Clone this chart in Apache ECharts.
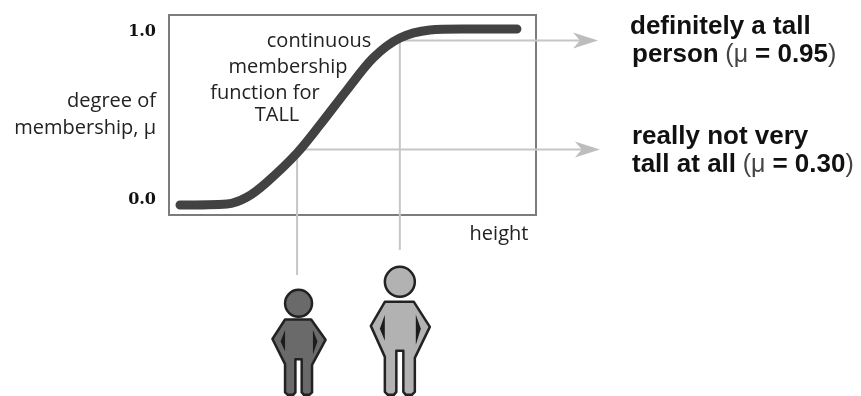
<!DOCTYPE html>
<html>
<head>
<meta charset="utf-8">
<title>membership function</title>
<style>
html, body { margin: 0; padding: 0; background: #fff; }
#main { width: 861px; height: 396px; }
</style>
<script src="https://cdn.jsdelivr.net/npm/echarts@6/dist/echarts.min.js"></script>
</head>
<body>
<div id="main"></div>
<script>
// curve
var heightValues = [3, 15.8, 21.3, 26.7, 34.9, 41.1, 48.5, 55.6, 62.9, 71.1, 80, 94.8];
var membershipValues = [-0.03, -0.024, 0.018, 0.107, 0.28, 0.446, 0.655, 0.845, 0.964, 1.012, 1.018, 1.018];
var yTicks = [0, 1];

var personHeights = [34.9, 62.9];
var personMembership = [0.30, 0.95];
var guideBottoms = [-0.446, -0.298];
var arrowEnds = [117.4, 116.9];
var personFeet = [-1.16, -1.16];

var axisFont = 'Open Sans';
var textLines = ['continuous', 'membership', 'function for', 'TALL'];

// guide up from the person, across to the arrow head
function renderGuide(params, api) {
    var bottom = api.coord([api.value(0), api.value(2)]);
    var corner = api.coord([api.value(0), api.value(1)]);
    var end = api.coord([api.value(3), api.value(1)]);
    return {
        type: 'group',
        children: [
            { type: 'polyline', shape: { points: [bottom, corner, [end[0] - 15, end[1]]] },
              style: { fill: null, stroke: '#c6c6c6', lineWidth: 2 } },
            { type: 'polygon', x: end[0], y: end[1],
              shape: { points: [[-25, -8], [0, 0], [-25, 8], [-18, 0]] },
              style: { fill: '#bdbdbd' } }
        ]
    };
}

// pictogram outline, tall person, px from the middle of the feet
var bodyShape = [[-15,-93],[-29,-69],[-15,-38],[-15,-3],[-12,0],[-6,0],[-3.5,-3],[-3.5,-44],[3.5,-44],[3.5,-3],[6,0],[12,0],[15,-3],[15,-37],[30,-68],[14,-93]];
var armLeft = [[-15,-80],[-20,-66],[-15,-54]];
var armRight = [[16,-80],[21,-66],[16,-50]];
var personScale = [[0.9, 0.81], [1, 1]];
var personFill = ['#6a6a6a', '#b2b2b2'];

function scaled(pts, s) {
    return pts.map(function (p) { return [p[0] * s[0], p[1] * s[1]]; });
}

function renderPerson(params, api) {
    var i = params.dataIndex;
    var p = api.coord([api.value(0), api.value(1)]);
    var s = personScale[i];
    return {
        type: 'group',
        x: p[0],
        y: p[1],
        children: [
            { type: 'polygon', shape: { points: scaled(bodyShape, s) },
              style: { fill: personFill[i], stroke: '#222', lineWidth: 2.5, lineJoin: 'round' } },
            { type: 'polygon', shape: { points: scaled(armLeft, s) }, style: { fill: '#1c1c1c' } },
            { type: 'polygon', shape: { points: scaled(armRight, s) }, style: { fill: '#1c1c1c' } },
            { type: 'circle', shape: { cx: 0, cy: -113 * s[1], r: 15 * s[0] },
              style: { fill: personFill[i], stroke: '#222', lineWidth: 2.5 } }
        ]
    };
}

function lineText(str, x, y, align) {
    return { type: 'text', x: x, y: y, style: {
        text: str, textAlign: align || 'center', textVerticalAlign: 'middle',
        font: '20px "Open Sans"', fill: '#222'
    } };
}

function boldText(str, x, y) {
    return { type: 'text', x: x, y: y, style: {
        text: str, textVerticalAlign: 'middle',
        rich: {
            b: { font: 'bold 26px "Liberation Sans"', fill: '#111' },
            n: { font: '25px "Liberation Sans"', fill: '#444' }
        }
    } };
}

var myChart = echarts.init(document.getElementById('main'));

var option = {
    animation: false,
    grid: {
        left: 169, right: 325, top: 15, bottom: 181,
        outerBoundsMode: 'none',
        show: true, borderColor: '#7c7c7c', borderWidth: 2, backgroundColor: '#fff'
    },
    xAxis: {
        type: 'value', min: 0, max: 100,
        axisLine: { show: false }, axisTick: { show: false },
        axisLabel: { show: false }, splitLine: { show: false }
    },
    yAxis: {
        type: 'value', min: -0.0893, max: 1.1012,
        axisLine: { show: false }, axisTick: { show: false }, splitLine: { show: false },
        axisLabel: {
            customValues: yTicks,
            margin: 13,
            fontFamily: 'DejaVu Serif', fontWeight: 'bold', fontSize: 16, color: '#111',
            formatter: function (v) { return v.toFixed(1); }
        },
        name: 'degree of\nmembership, μ',
        nameLocation: 'middle',
        nameRotate: 0,
        nameGap: 13,
        nameMoveOverlap: false,
        nameTextStyle: { fontFamily: axisFont, fontSize: 20, color: '#222', align: 'right', lineHeight: 27 }
    },
    series: [
        {
            type: 'custom',
            clip: false,
            silent: true,
            renderItem: renderGuide,
            data: personHeights.map(function (h, i) {
                return [h, personMembership[i], guideBottoms[i], arrowEnds[i]];
            }),
            z: 1
        },
        {
            type: 'line',
            smooth: 0.3,
            symbol: 'none',
            lineStyle: { color: '#424242', width: 9, cap: 'round', join: 'round' },
            data: heightValues.map(function (h, i) { return [h, membershipValues[i]]; }),
            z: 2
        },
        {
            type: 'custom',
            clip: false,
            renderItem: renderPerson,
            data: personHeights.map(function (h, i) { return [h + (i === 0 ? 0.4 : 0), personFeet[i]]; }),
            z: 3
        }
    ],
    graphic: [
        lineText(textLines[0], 319, 41),
        lineText(textLines[1], 288, 67),
        lineText(textLines[2], 265, 93),
        lineText(textLines[3], 277, 115),
        lineText('height', 499, 234),
        boldText('{b|definitely a tall}', 630, 27),
        boldText('{b|person}  {n|(μ }{b|= 0.95}{n|)}', 632, 55),
        boldText('{b|really not very}', 632, 137),
        boldText('{b|tall at all}  {n|(μ }{b|= 0.30}{n|)}', 632, 165)
    ]
};

myChart.setOption(option);
</script>
</body>
</html>
